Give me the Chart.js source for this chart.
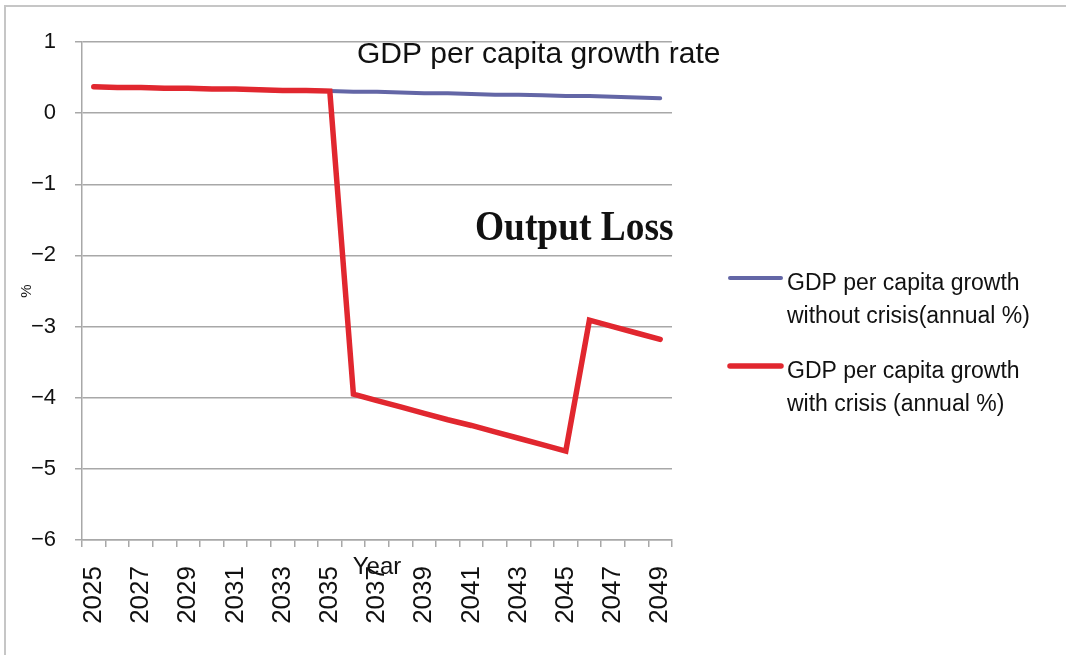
<!DOCTYPE html>
<html>
<head>
<meta charset="utf-8">
<title>GDP per capita growth rate</title>
<script src="https://cdn.jsdelivr.net/npm/chart.js@4.4.1/dist/chart.umd.min.js"></script>
<style>
  html, body { margin: 0; padding: 0; background: #ffffff; overflow: hidden; }
  #wrap { position: relative; width: 1066px; height: 655px; }
  #frame { position: absolute; left: 4px; top: 5px; right: 0; bottom: 0;
           border-top: 2px solid #c6c6c6; border-left: 2px solid #c6c6c6; pointer-events: none; }
  canvas { display: block; }
</style>
</head>
<body>
<div id="wrap">
  <canvas id="chart" width="1066" height="655"></canvas>
  <div id="frame"></div>
</div>
<script>
// Years on the horizontal axis
const years = ['2025','2026','2027','2028','2029','2030','2031','2032','2033','2034',
               '2035','2036','2037','2038','2039','2040','2041','2042','2043','2044',
               '2045','2046','2047','2048','2049'];

// Annual GDP per capita growth, %
const withoutCrisis = [0.37, 0.36, 0.36, 0.35, 0.35, 0.34, 0.34, 0.33, 0.32, 0.32,
                       0.31, 0.30, 0.30, 0.29, 0.28, 0.28, 0.27, 0.26, 0.26, 0.25,
                       0.24, 0.24, 0.23, 0.22, 0.21];
const withCrisis    = [0.37, 0.36, 0.36, 0.35, 0.35, 0.34, 0.34, 0.33, 0.32, 0.32,
                       0.31, -3.95, -4.04, -4.13, -4.22, -4.31, -4.39, -4.48, -4.57, -4.66,
                       -4.75, -2.91, -3.00, -3.09, -3.18];

// Value axis range
const yMin = -6;
const yMax = 1;
const yStep = 1;

// Text
const chartTitle = 'GDP per capita growth rate';
const annotationText = 'Output Loss';
const xTitle = 'Year';
const yTitle = '%';
const seriesNames = ['GDP per capita growth without crisis(annual %)',
                     'GDP per capita growth with crisis (annual %)'];
const legendLines = [['GDP per capita growth', 'without crisis(annual %)'],
                     ['GDP per capita growth', 'with crisis (annual %)']];

const BLUE = '#6366a6';
const RED = '#e1272f';
const GRID = '#a8a8a8';
const SANS = '"Liberation Sans", Arial, sans-serif';

// Titles, annotation and the side legend drawn on the canvas
const overlayPlugin = {
  id: 'overlay',
  afterDraw(chart) {
    const ctx = chart.ctx;
    const area = chart.chartArea;
    ctx.save();
    ctx.fillStyle = '#111111';
    ctx.textBaseline = 'alphabetic';

    // chart title, sitting on the top gridline
    ctx.font = '30px ' + SANS;
    ctx.textAlign = 'left';
    ctx.fillText(chartTitle, 357, area.top + 21);

    // annotation, a slightly condensed bold serif
    ctx.save();
    ctx.translate(475, 240);
    ctx.scale(0.87, 1);
    ctx.font = 'bold 43px "Liberation Serif", "Times New Roman", serif';
    ctx.fillText(annotationText, 0, 0);
    ctx.restore();

    // axis title under the axis, over the year labels
    ctx.font = '24px ' + SANS;
    ctx.textAlign = 'center';
    ctx.fillText(xTitle, (area.left + area.right) / 2, area.bottom + 34);

    // legend
    const legendTops = [278, 366];
    chart.data.datasets.forEach((ds, i) => {
      const y = legendTops[i];
      ctx.strokeStyle = ds.borderColor;
      ctx.lineWidth = ds.borderWidth;
      ctx.lineCap = 'round';
      ctx.beginPath();
      ctx.moveTo(730, y);
      ctx.lineTo(781, y);
      ctx.stroke();
      ctx.fillStyle = '#111111';
      ctx.font = '23px ' + SANS;
      ctx.textAlign = 'left';
      legendLines[i].forEach((line, k) => {
        ctx.fillText(line, 787, y + 12 + k * 33);
      });
    });
    ctx.restore();
  }
};

new Chart(document.getElementById('chart'), {
  type: 'line',
  data: {
    labels: years,
    datasets: [
      {
        label: seriesNames[0],
        data: withoutCrisis,
        borderColor: BLUE,
        backgroundColor: BLUE,
        borderWidth: 4,
        pointRadius: 0,
        tension: 0,
        borderCapStyle: 'round',
        order: 1
      },
      {
        label: seriesNames[1],
        data: withCrisis,
        borderColor: RED,
        backgroundColor: RED,
        borderWidth: 5.5,
        pointRadius: 0,
        tension: 0,
        borderCapStyle: 'round',
        borderJoinStyle: 'miter',
        order: 0
      }
    ]
  },
  options: {
    responsive: false,
    animation: false,
    layout: { padding: { left: 8, right: 394, top: 42, bottom: 0 } },
    plugins: {
      legend: { display: false },
      title: { display: false },
      tooltip: { enabled: false }
    },
    scales: {
      x: {
        offset: true,
        grid: {
          offset: true,
          drawOnChartArea: false,
          drawTicks: true,
          tickLength: 7,
          color: GRID,
          lineWidth: 1.5
        },
        border: { color: GRID, width: 1.5 },
        ticks: {
          autoSkip: false,
          minRotation: 90,
          maxRotation: 90,
          padding: 19,
          color: '#111111',
          font: { family: SANS, size: 26 },
          callback: function (value, index) {
            return index % 2 === 0 ? this.getLabelForValue(value) : '';
          }
        },
        afterFit(scale) { scale.height = 115; }
      },
      y: {
        min: yMin,
        max: yMax,
        grid: {
          color: GRID,
          lineWidth: 1.5,
          tickLength: 7
        },
        border: { color: GRID, width: 1.5 },
        ticks: {
          stepSize: yStep,
          padding: 19,
          color: '#111111',
          font: { family: SANS, size: 22 },
          callback: (v) => (v < 0 ? '\u2212' + Math.abs(v) : String(v))
        },
        title: {
          display: true,
          text: yTitle,
          color: '#111111',
          font: { family: SANS, size: 15 },
          padding: { top: 10, bottom: 0 }
        },
        afterFit(scale) { scale.width = 74; }
      }
    }
  },
  plugins: [overlayPlugin]
});
</script>
</body>
</html>
